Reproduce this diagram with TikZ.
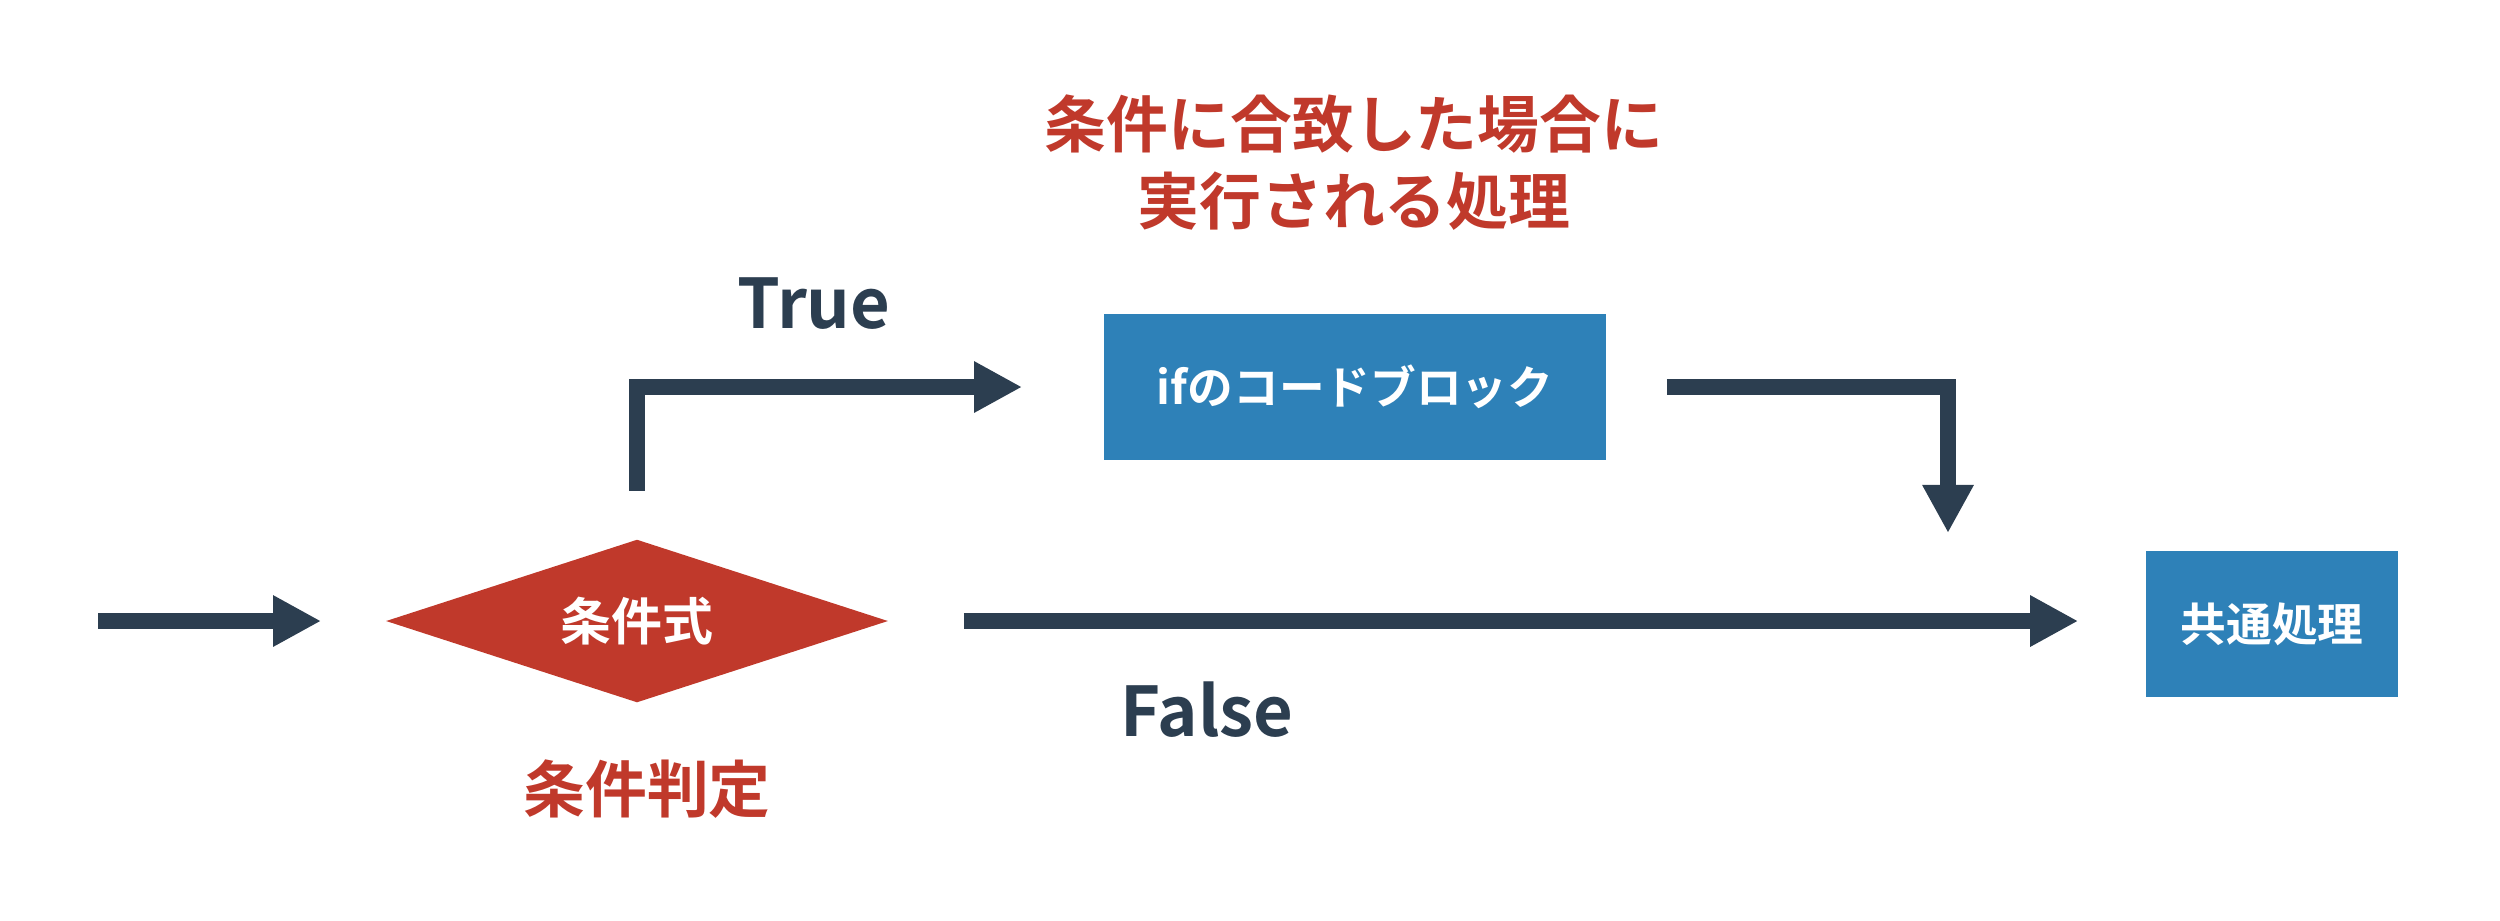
\documentclass[tikz,border=0pt]{standalone}
\usepackage{fontspec}
\setmainfont{Noto Sans CJK JP}[BoldFont={Noto Sans CJK JP Bold}]
\usetikzlibrary{arrows.meta,positioning,shapes.geometric}
\definecolor{flowdark}{HTML}{2C3E50}
\definecolor{flowred}{HTML}{C0392B}
\definecolor{flowblue}{HTML}{2E81B8}

\begin{document}
\begin{tikzpicture}[
    x=0.01cm, y=-0.01cm,
    ifcond/.style={diamond, aspect=3.08, fill=flowred, text=white, inner sep=0pt, minimum width=5.02cm, minimum height=1.63cm, font=\fontsize{14.5}{17}\selectfont\bfseries},
    codebox/.style={fill=flowblue, text=white, inner sep=0pt, minimum height=1.46cm, font=\fontsize{13}{16}\selectfont\bfseries},
    branchlabel/.style={text=flowdark, anchor=base, font=\fontsize{19.5}{23}\selectfont\bfseries},
    notelabel/.style={text=flowred, align=center, font=\fontsize{17.6}{21.9}\selectfont\bfseries},
    flowarrow/.style={-{Triangle[length=0.48cm, width=0.48cm]}, line width=0.16cm, draw=flowdark}
  ]
    \useasboundingbox (0,0) rectangle (2500,920);
    \node[ifcond] (cond) at (637,621) {条件式};
    \node[notelabel] (condnote) at (647,789) {条件判定};
    \node[codebox, minimum width=5.02cm] (ifblock) at (1355,387) {ifのコードブロック};
    \node[codebox, minimum width=2.52cm] (common) at (2272,624) {共通処理};
    \node[notelabel] (ifnote) at (1354,163) {条件に合致した場合に\\実行される処理};
    \node[branchlabel] (truelabel) at (814,328) {True};
    \node[branchlabel] (falselabel) at (1207,736) {False};
    \coordinate (entry) at (98,621);
    \coordinate (merge) at (1948,533);
    \draw[flowarrow] (entry) -- ([xshift=-0.64cm]cond.west);
    \draw[flowarrow] ([yshift=0.48cm]cond.north) |- ([xshift=-0.81cm]ifblock.west);
    \draw[flowarrow] ([xshift=0.6cm]ifblock.east) -| (merge);
    \draw[flowarrow, shorten <=0.75cm, shorten >=0.67cm] (cond.east) -- (cond.east -| common.west);
\end{tikzpicture}
\end{document}
